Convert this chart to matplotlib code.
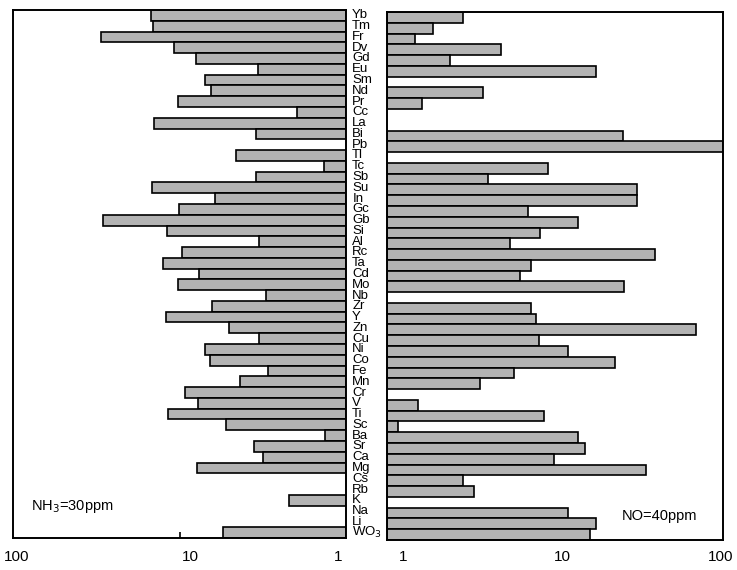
import numpy as np
import matplotlib
matplotlib.use("Agg")
import matplotlib.pyplot as plt

plt.rcParams['font.family'] = ['Liberation Sans', 'DejaVu Sans']

elements = ["Yb", "Tm", "Fr", "Dv", "Gd", "Eu", "Sm", "Nd", "Pr", "Cc", "La", "Bi", "Pb",
            "Tl", "Tc", "Sb", "Su", "In", "Gc", "Gb", "Si", "Al", "Rc", "Ta", "Cd", "Mo",
            "Nb", "Zr", "Y", "Zn", "Cu", "Ni", "Co", "Fe", "Mn", "Cr", "V", "Ti", "Sc",
            "Ba", "Sr", "Ca", "Mg", "Cs", "Rb", "K", "Na", "Li", "WO$_3$"]

nan = np.nan
nh3_30ppm = [14.8, 14.5, 29.6, 10.8, 8.0, 3.36, 7.0, 6.5, 10.2, 1.96, 14.2, 3.45, nan,
             4.55, 1.35, 3.45, 14.6, 6.15, 10.1, 28.8, 11.9, 3.33, 9.6, 12.5, 7.6, 10.2,
             3.03, 6.4, 12.0, 5.07, 3.31, 7.0, 6.6, 2.96, 4.35, 9.3, 7.76, 11.8, 5.23,
             1.34, 3.55, 3.13, 7.82, nan, nan, 2.2, nan, nan, 5.5]

no_40ppm = [2.82, 1.89, 1.47, 4.77, 2.38, 17.6, nan, 3.71, 1.62, nan, nan, 25.5, 100.0,
            nan, 9.04, 4.01, 30.9, 30.9, 6.9, 13.8, 8.18, 5.4, 39.5, 7.2, 6.2, 25.6,
            nan, 7.2, 7.7, 69.3, 8.0, 11.9, 22.9, 5.7, 3.59, nan, 1.52, 8.6, 1.17,
            13.7, 15.1, 9.8, 34.7, 2.82, 3.31, nan, 11.9, 17.5, 16.1]

left_ticks = [100, 10, 1]
right_ticks = [1, 10, 100]
left_tick_labels = ["100", "10", "1"]
right_tick_labels = ["1", "10", "100"]

fig = plt.figure(figsize=(7.37, 5.70), dpi=100)
W, H = 737, 570
axL = fig.add_axes([13 / W, 32 / H, 333 / W, 528 / H])
axR = fig.add_axes([387 / W, 30 / H, 336 / W, 528 / H])

n = len(elements)
ypos = np.arange(n)
bar_color = '#b3b3b3'

def draw(ax, vals):
    vals = np.asarray(vals, dtype=float)
    m = ~np.isnan(vals)
    ax.barh(ypos[m], vals[m] - 1.0, left=1.0, height=1.0, color=bar_color,
            edgecolor='black', linewidth=1.2)
    ax.set_xscale('log')
    ax.set_ylim(n - 0.5, -0.5)
    ax.set_yticks([])
    for s in ax.spines.values():
        s.set_linewidth(1.4)
    ax.minorticks_off()

draw(axL, nh3_30ppm)
draw(axR, no_40ppm)
axL.set_xlim(100, 1)
axR.set_xlim(1, 100)

# Only a small inward tick at 10 on the left panel
axL.set_xticks([10])
axL.tick_params(axis='x', direction='in', length=4, width=1.2, labelbottom=False)
axR.set_xticks([])

left_offsets = [4, 11, -8]
right_offsets = [16, 7, -2]
for v, lab, dx in zip(left_ticks, left_tick_labels, left_offsets):
    axL.annotate(lab, xy=(v, 0), xycoords=('data', 'axes fraction'),
                 xytext=(dx * 0.72, -14), textcoords='offset points',
                 ha='center', va='center', fontsize=11)
for v, lab, dx in zip(right_ticks, right_tick_labels, right_offsets):
    axR.annotate(lab, xy=(v, 0), xycoords=('data', 'axes fraction'),
                 xytext=(dx * 0.72, -12.5), textcoords='offset points',
                 ha='center', va='center', fontsize=11)

# element labels in the gap between panels
for i, el in enumerate(elements):
    axL.annotate(el, xy=(1.0, i), xycoords=('axes fraction', 'data'),
                 xytext=(4.5, 0), textcoords='offset points',
                 ha='left', va='center', fontsize=9.5)

axL.text(0.055, 0.06, "NH$_3$=30ppm", transform=axL.transAxes, fontsize=10.5,
         ha='left', va='center')
axR.text(0.70, 0.045, "NO=40ppm", transform=axR.transAxes, fontsize=10.5,
         ha='left', va='center')

fig.savefig("out.png", dpi=100)
